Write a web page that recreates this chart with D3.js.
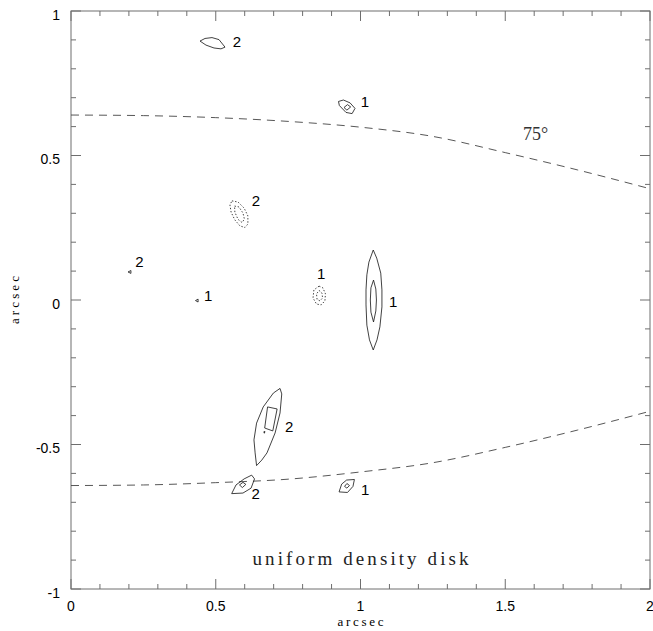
<!DOCTYPE html>
<html>
<head>
<meta charset="utf-8">
<script src="https://cdn.jsdelivr.net/npm/d3@7/dist/d3.min.js"></script>
<style>
  html, body { margin: 0; padding: 0; background: #fff; }
  svg { display: block; }
</style>
</head>
<body>
<svg id="chart" width="653" height="631"></svg>
<script>
// Axis ticks and labels
const xMajorTicks = [0, 0.5, 1, 1.5, 2];
const yMajorTicks = [-1, -0.5, 0, 0.5, 1];
const xTickLabels = ["0", "0.5", "1", "1.5", "2"];
const yTickLabels = ["-1", "-0.5", "0", "0.5", "1"];

// Projected 75-degree horizon of the disk (dashed curves)
const horizonX      = [0, 0.25, 0.5, 0.75, 1.0, 1.25, 1.5, 1.75, 2.0];
const upperHorizonY = [0.640, 0.638, 0.631, 0.618, 0.598, 0.566, 0.510, 0.450, 0.385];
const lowerHorizonY = [-0.642, -0.640, -0.632, -0.620, -0.595, -0.563, -0.510, -0.450, -0.385];

// Image contours (arcsec); dotted = negative level
const contours = [
  { style: "solid", points: [[0.4456,0.896],[0.4629,0.905],[0.4870,0.908],[0.5112,0.901],[0.5320,0.875],[0.5181,0.869],[0.4940,0.872],[0.4663,0.882]] },
  { style: "solid", points: [[0.924,0.687],[0.941,0.692],[0.964,0.682],[0.981,0.663],[0.971,0.645],[0.950,0.649],[0.927,0.673]] },
  { style: "solid", points: [[0.943,0.666],[0.955,0.676],[0.966,0.668],[0.953,0.657]] },
  { style: "dotted", points: [[0.556,0.343],[0.577,0.339],[0.598,0.318],[0.611,0.291],[0.611,0.263],[0.601,0.251],[0.584,0.256],[0.566,0.277],[0.553,0.304],[0.549,0.329]] },
  { style: "dotted", points: [[0.565,0.325],[0.580,0.322],[0.594,0.301],[0.599,0.280],[0.591,0.268],[0.577,0.279],[0.566,0.304]] },
  { style: "dotted", points: [[0.857,0.048],[0.870,0.042],[0.879,0.021],[0.877,-0.003],[0.864,-0.017],[0.848,-0.014],[0.836,0.007],[0.839,0.035]] },
  { style: "dotted", points: [[0.857,0.033],[0.867,0.024],[0.869,0.007],[0.860,-0.003],[0.850,0.002],[0.848,0.021]] },
  { style: "solid", points: [[0.197,0.097],[0.207,0.102],[0.207,0.092]] },
  { style: "solid", points: [[0.430,-0.002],[0.439,0.003],[0.439,-0.007]] },
  { style: "solid", points: [[1.044,0.173],[1.056,0.145],[1.070,0.093],[1.074,0.035],[1.074,-0.024],[1.067,-0.093],[1.057,-0.138],[1.044,-0.173],[1.031,-0.138],[1.022,-0.087],[1.019,-0.017],[1.019,0.035],[1.022,0.087],[1.029,0.131]] },
  { style: "solid", points: [[1.045,0.069],[1.053,0.038],[1.055,0.000],[1.053,-0.038],[1.045,-0.076],[1.036,-0.042],[1.034,0.000],[1.036,0.042]] },
  { style: "solid", points: [[0.722,-0.306],[0.728,-0.325],[0.722,-0.391],[0.705,-0.460],[0.677,-0.529],[0.659,-0.554],[0.641,-0.573],[0.636,-0.529],[0.632,-0.484],[0.641,-0.426],[0.664,-0.370],[0.699,-0.322]] },
  { style: "solid", points: [[0.679,-0.370],[0.712,-0.377],[0.697,-0.453],[0.669,-0.443]] },
  { style: "solid", points: [[0.666,-0.456],[0.670,-0.455],[0.668,-0.461]] },
  { style: "solid", points: [[0.555,-0.670],[0.570,-0.640],[0.598,-0.619],[0.624,-0.606],[0.634,-0.619],[0.622,-0.651],[0.594,-0.668]] },
  { style: "solid", points: [[0.582,-0.640],[0.594,-0.631],[0.604,-0.638],[0.592,-0.649]] },
  { style: "solid", points: [[0.926,-0.664],[0.935,-0.637],[0.952,-0.623],[0.979,-0.621],[0.974,-0.645],[0.955,-0.666]] },
  { style: "solid", points: [[0.945,-0.645],[0.953,-0.635],[0.962,-0.642],[0.953,-0.651]] }
];

// Image labels (parity index)
const imageLabelText = ["2", "1", "2", "1", "2", "1", "1", "2", "2", "1"];
const imageLabelX    = [0.573, 1.015, 0.639, 0.864, 0.236, 0.474, 1.113, 0.754, 0.638, 1.016];
const imageLabelY    = [0.893, 0.688, 0.344, 0.092, 0.133, 0.017, -0.006, -0.438, -0.669, -0.656];

const svg = d3.select("#chart");
const W = 653, H = 631;
svg.append("rect").attr("width", W).attr("height", H).attr("fill", "#fff");

const x = d3.scaleLinear().domain([0, 2]).range([71, 650]);
const y = d3.scaleLinear().domain([-1, 1]).range([589, 11]);

const frameColor = "#6e6e6e";
const sans = "'Liberation Sans', Arial, Helvetica, sans-serif";
const serif = "'Liberation Serif', 'Times New Roman', serif";

// Frame
svg.append("rect")
  .attr("x", x(0)).attr("y", y(1))
  .attr("width", x(2) - x(0)).attr("height", y(-1) - y(1))
  .attr("fill", "none").attr("stroke", frameColor).attr("stroke-width", 1);

// Ticks on all four sides (major every 0.5, minor every 0.1)
const minorX = d3.range(0, 2.0001, 0.1).map(v => +v.toFixed(2));
const minorY = d3.range(-1, 1.0001, 0.1).map(v => +v.toFixed(2));
const isMajor = v => Math.abs(v * 2 - Math.round(v * 2)) < 1e-6;
const ticks = svg.append("g").attr("stroke", frameColor).attr("stroke-width", 1);
minorX.forEach(v => {
  const len = isMajor(v) ? 10 : 5;
  const px = x(v);
  ticks.append("line").attr("x1", px).attr("x2", px).attr("y1", y(-1)).attr("y2", y(-1) - len);
  ticks.append("line").attr("x1", px).attr("x2", px).attr("y1", y(1)).attr("y2", y(1) + len);
});
minorY.forEach(v => {
  const len = isMajor(v) ? 10 : 5;
  const py = y(v);
  ticks.append("line").attr("y1", py).attr("y2", py).attr("x1", x(0)).attr("x2", x(0) + len);
  ticks.append("line").attr("y1", py).attr("y2", py).attr("x1", x(2)).attr("x2", x(2) - len);
});

// Tick labels
svg.append("g").selectAll("text").data(xMajorTicks).join("text")
  .attr("x", d => x(d)).attr("y", y(-1) + 17)
  .attr("text-anchor", "middle").attr("dominant-baseline", "central")
  .attr("font-family", sans).attr("font-size", 14).attr("fill", "#000")
  .text((d, i) => xTickLabels[i]);

svg.append("g").selectAll("text").data(yMajorTicks).join("text")
  .attr("x", 60).attr("y", d => y(d) + 3.5)
  .attr("text-anchor", "end").attr("dominant-baseline", "central")
  .attr("font-family", sans).attr("font-size", 14).attr("fill", "#000")
  .text((d, i) => yTickLabels[i]);

// Axis titles
svg.append("text")
  .attr("x", x(1)).attr("y", 621)
  .attr("text-anchor", "middle").attr("dominant-baseline", "central")
  .attr("font-family", serif).attr("font-size", 13)
  .attr("textLength", 46).attr("lengthAdjust", "spacing")
  .attr("fill", "#000").text("arcsec");

svg.append("text")
  .attr("transform", `translate(14,${y(0)}) rotate(-90)`)
  .attr("text-anchor", "middle").attr("dominant-baseline", "central")
  .attr("font-family", serif).attr("font-size", 13)
  .attr("textLength", 48).attr("lengthAdjust", "spacing")
  .attr("fill", "#000").text("arcsec");

// Horizon curves
const horizonLine = d3.line()
  .x(d => x(d[0])).y(d => y(d[1]))
  .curve(d3.curveMonotoneX);
[upperHorizonY, lowerHorizonY].forEach(ys => {
  svg.append("path")
    .datum(horizonX.map((v, i) => [v, ys[i]]))
    .attr("d", horizonLine)
    .attr("fill", "none").attr("stroke", "#444")
    .attr("stroke-width", 0.9).attr("stroke-dasharray", "8,6");
});

// Contours
const contourLine = d3.line()
  .x(d => x(d[0])).y(d => y(d[1]))
  .curve(d3.curveLinearClosed);
svg.append("g").selectAll("path").data(contours).join("path")
  .attr("d", d => contourLine(d.points))
  .attr("fill", "none").attr("stroke", "#111")
  .attr("stroke-width", 0.8)
  .attr("stroke-dasharray", d => d.style === "dotted" ? "1.4,1.8" : null);

// Image labels
svg.append("g").selectAll("text").data(imageLabelText).join("text")
  .attr("x", (d, i) => x(imageLabelX[i])).attr("y", (d, i) => y(imageLabelY[i]))
  .attr("text-anchor", "middle").attr("dominant-baseline", "central")
  .attr("font-family", sans).attr("font-size", 15).attr("fill", "#000")
  .text(d => d);

// Horizon annotation
svg.append("text")
  .attr("x", x(1.561)).attr("y", y(0.554))
  .attr("font-family", serif).attr("font-size", 18).attr("fill", "#333")
  .text("75°");

// Model annotation
svg.append("text")
  .attr("x", x(1)).attr("y", y(-0.917))
  .attr("text-anchor", "middle")
  .attr("font-family", serif).attr("font-size", 19)
  .attr("textLength", 216).attr("lengthAdjust", "spacing")
  .attr("fill", "#222").text("uniform density disk");
</script>
</body>
</html>
